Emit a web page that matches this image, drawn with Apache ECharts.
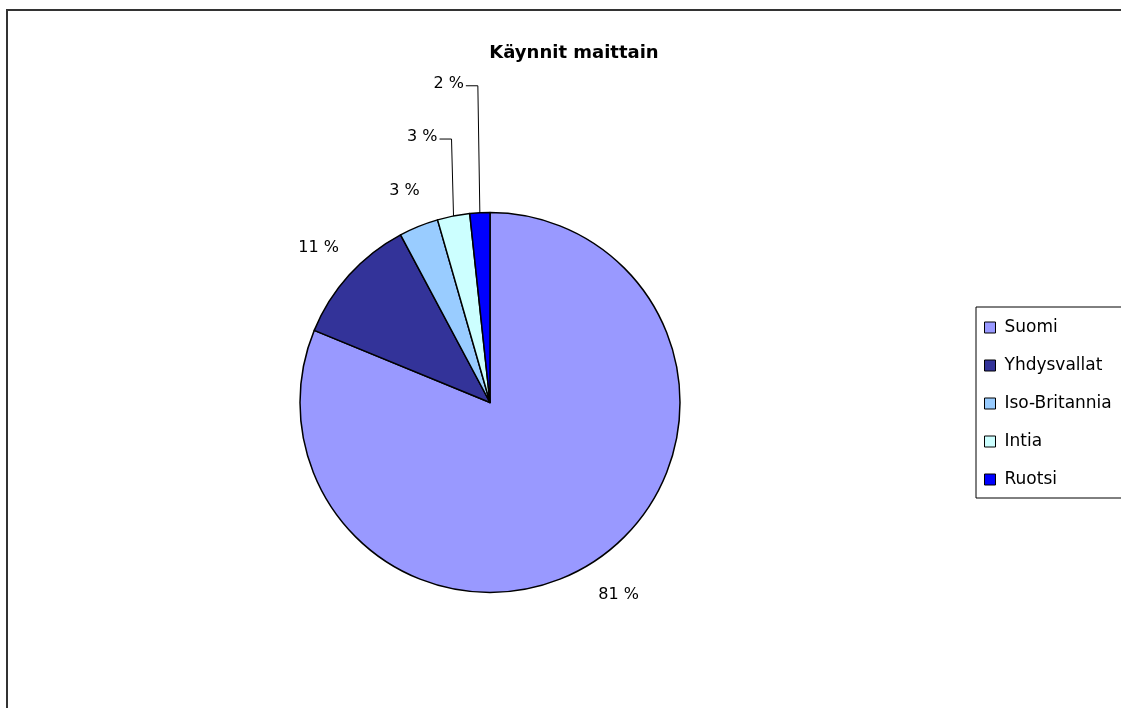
<!DOCTYPE html>
<html>
<head>
<meta charset="utf-8">
<script src="https://cdn.jsdelivr.net/npm/echarts@6/dist/echarts.min.js"></script>
<style>html,body{margin:0;padding:0;background:#fff;}#c{width:1121px;height:708px;}</style>
</head>
<body>
<div id="c"></div>
<script>
const titleText = 'Käynnit maittain';
const categories = ['Suomi', 'Yhdysvallat', 'Iso-Britannia', 'Intia', 'Ruotsi'];
const values = [81.2, 11.0, 3.35, 2.75, 1.7];
const colors = ['#9999FF', '#333399', '#99CCFF', '#CCFFFF', '#0000FF'];

// label placement config (not data): distance of label centre beyond the rim,
// or, for labels with leader lines, how far the leader rises above the rim
const labelGap = [41, 41, 38, 0, 0];
const leaderRise = [0, 0, 0, 77, 127];

const FONT = "'DejaVu Sans', Verdana, sans-serif";
const CX = 490, CY = 402.5, R = 190;
const chart = echarts.init(document.getElementById('c'));

const total = values.reduce((a, b) => a + b, 0);
function midAngle(i) {
  let cum = 0;
  for (let k = 0; k < i; k++) cum += values[k];
  const frac = (cum + values[i] / 2) / total;
  return frac * Math.PI * 2; // clockwise from 12 o'clock
}

const data = categories.map((name, i) => {
  const d = { name, value: values[i], itemStyle: { color: colors[i] } };
  if (leaderRise[i] > 0) d.labelLine = { show: true, length: 20, length2: 10 };
  return d;
});

chart.setOption({
  animation: false,
  title: {
    text: titleText,
    left: 569, top: 39, textAlign: 'center',
    textStyle: { fontFamily: FONT, fontSize: 18, fontWeight: 'bold', color: '#000' }
  },
  legend: {
    orient: 'vertical',
    left: 976, top: 307,
    padding: [12, 40, 10, 8],
    itemGap: 21,
    itemWidth: 11, itemHeight: 11,
    icon: 'rect',
    borderColor: '#000', borderWidth: 1,
    itemStyle: { borderColor: '#000', borderWidth: 1 },
    textStyle: { fontFamily: FONT, fontSize: 17, color: '#000', padding: [0, 0, 0, 4] },
    data: categories
  },
  graphic: [{
    type: 'rect', silent: true,
    shape: { x: 7, y: 10, width: 1300, height: 900 },
    style: { fill: 'none', stroke: '#333', lineWidth: 2 }
  }],
  series: [{
    type: 'pie',
    center: [CX, CY],
    radius: R,
    startAngle: 90,
    clockwise: true,
    avoidLabelOverlap: false,
    itemStyle: { borderColor: '#000', borderWidth: 1.5 },
    label: {
      show: true, position: 'outside',
      formatter: p => Math.round(p.value) + ' %',
      fontFamily: FONT, fontSize: 16, color: '#000'
    },
    labelLine: { show: false, lineStyle: { color: '#000', width: 1 } },
    labelLayout: function (params) {
      const i = params.dataIndex;
      const a = midAngle(i);
      const sx = Math.sin(a), sy = -Math.cos(a);
      if (leaderRise[i] > 0) {
        const p0 = [CX + sx * R, CY + sy * R];
        const ly = p0[1] - leaderRise[i];
        const p1 = [p0[0] - 2, ly];
        const p2 = [p1[0] - 12, ly];
        return {
          x: p2[0] - 2, y: ly - 2,
          align: 'right', verticalAlign: 'middle',
          labelLinePoints: [p0, p1, p2]
        };
      }
      const d = R + labelGap[i];
      return {
        x: CX + sx * d, y: CY + sy * d,
        align: 'center', verticalAlign: 'middle'
      };
    },
    emphasis: { disabled: true },
    data
  }]
});
</script>
</body>
</html>
